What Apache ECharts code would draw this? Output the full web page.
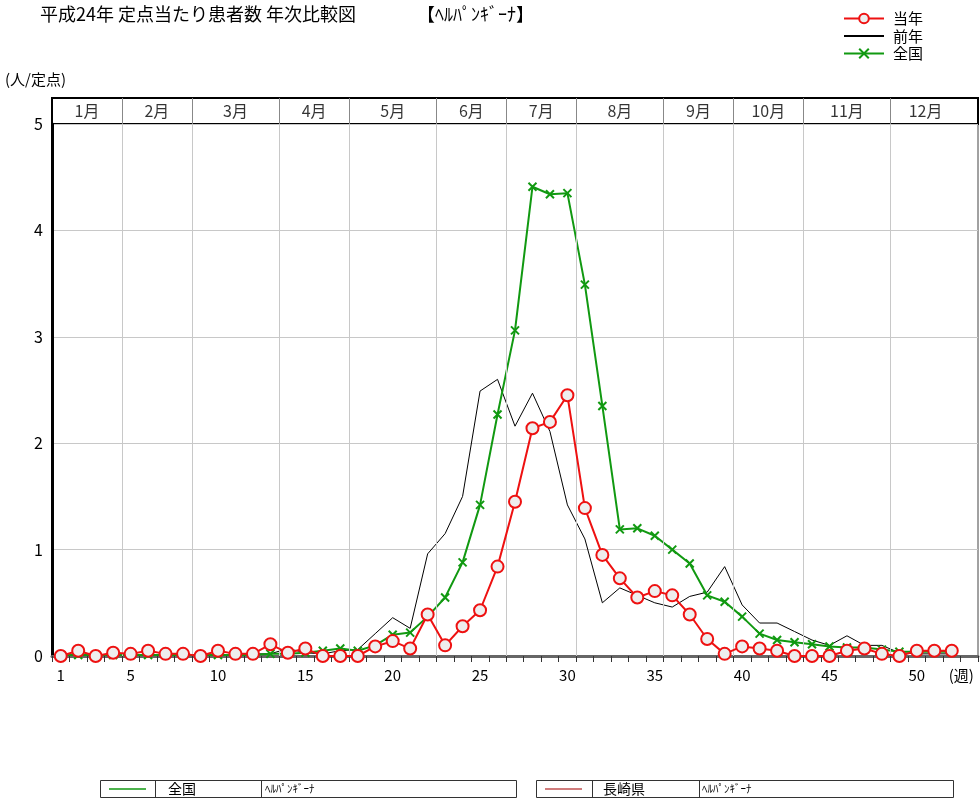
<!DOCTYPE html>
<html><head><meta charset="utf-8">
<script src="https://cdn.jsdelivr.net/npm/echarts@6/dist/echarts.min.js"></script>
<style>html,body{margin:0;padding:0;background:#fff}#c{width:980px;height:800px}</style>
</head><body><div id="c"></div>
<script>
// ---- data ----
const weeks = ['1','2','3','4','5','6','7','8','9','10','11','12','13','14','15','16','17','18','19','20','21','22','23','24','25','26','27','28','29','30','31','32','33','34','35','36','37','38','39','40','41','42','43','44','45','46','47','48','49','50','51','52'];
const weekUnit = '(週)';
const weekTickLabels = ['1','5','10','15','20','25','30','35','40','45','50'];
const months = ['1月','2月','3月','4月','5月','6月','7月','8月','9月','10月','11月','12月'];
const monthWeekCounts = [4,4,5,4,5,4,4,5,4,4,5,4];
const yTicks = [0,1,2,3,4,5];
// 当年 (長崎県 平成24年)
const thisYear = [0.00,0.05,0.00,0.03,0.02,0.05,0.02,0.02,0.00,0.05,0.02,0.02,0.11,0.03,0.07,0.00,0.00,0.00,0.09,0.14,0.07,0.39,0.10,0.28,0.43,0.84,1.45,2.14,2.20,2.45,1.39,0.95,0.73,0.55,0.61,0.57,0.39,0.16,0.02,0.09,0.07,0.05,0.00,0.00,0.00,0.05,0.07,0.02,0.00,0.05,0.05,0.05];
// 前年
const lastYear = [0.01,0.01,0.01,0.01,0.01,0.01,0.01,0.01,0.01,0.01,0.01,0.02,0.02,0.07,0.03,0.02,0.05,0.06,0.21,0.36,0.26,0.96,1.15,1.50,2.49,2.60,2.16,2.47,2.11,1.42,1.10,0.50,0.64,0.57,0.50,0.46,0.56,0.60,0.84,0.48,0.31,0.31,0.23,0.15,0.10,0.19,0.10,0.10,0.03,0.02,0.02,0.02];
// 全国
const national = [0.01,0.01,0.01,0.01,0.01,0.01,0.01,0.01,0.01,0.01,0.01,0.01,0.02,0.02,0.03,0.05,0.07,0.05,0.10,0.20,0.22,0.37,0.55,0.88,1.42,2.27,3.06,4.41,4.34,4.35,3.49,2.35,1.19,1.20,1.13,1.00,0.87,0.57,0.51,0.37,0.21,0.15,0.13,0.11,0.09,0.08,0.08,0.06,0.04,0.04,0.04,0.04];
const seriesNames = ['当年','前年','全国'];
const subject = 'ﾍﾙﾊﾟﾝｷﾞｰﾅ';
const prefecture = '長崎県';
const nationName = '全国';

// ---- derived ----
const FONT = "'Noto Sans CJK JP', sans-serif";
const xCats = weeks.concat([weekUnit]);
const bounds = [];
const centers = [];
let start = 0.5;
monthWeekCounts.forEach((n, i) => {
  centers.push([start + n / 2, 0.5, months[i]]);
  start += n;
  if (i < monthWeekCounts.length - 1) bounds.push(start);
});
const xMin = 0.5, xMax = xCats.length + 0.5;

const RED = '#ee1111', GREEN = '#119911';

const chart = echarts.init(document.getElementById('c'), null, {renderer: 'canvas'});
chart.setOption({
  animation: false,
  textStyle: {fontFamily: FONT},
  title: [
    {text: '平成24年 定点当たり患者数 年次比較図', left: 35, top: 0, textStyle: {fontSize: 18, fontWeight: 'normal', color: '#000', fontFamily: FONT}},
    {text: '【' + subject + '】', left: 412, top: 0, textStyle: {fontSize: 18, fontWeight: 'normal', color: '#000', fontFamily: FONT}},
    {text: '(人/定点)', left: 0, top: 67, textStyle: {fontSize: 15, fontWeight: 'normal', color: '#000', fontFamily: FONT}}
  ],
  legend: {
    data: [{name: seriesNames[0]}, {name: seriesNames[1], itemStyle: {opacity: 0}}, {name: seriesNames[2]}],
    orient: 'vertical', left: 838, top: 6,
    itemWidth: 40, itemHeight: 12, itemGap: 2.5,
    textStyle: {fontSize: 15, color: '#000', fontFamily: FONT, padding: [0, 0, 0, 4]}
  },
  grid: [
    {left: 52, right: 2, top: 124, height: 532, show: true, borderColor: '#444', borderWidth: 1, backgroundColor: 'transparent'},
    {left: 52, right: 2, top: 98, height: 26, show: true, borderColor: '#000', borderWidth: 2, backgroundColor: '#fff'}
  ],
  xAxis: [
    {type: 'category', gridIndex: 0, data: xCats, boundaryGap: true,
     axisLine: {lineStyle: {color: '#666', width: 3}},
     axisTick: {show: true, interval: 0, length: 6, lineStyle: {color: '#333', width: 1}},
     axisLabel: {interval: 0, margin: 12, fontSize: 15, color: '#000', fontFamily: FONT,
       formatter: v => weekTickLabels.includes(v) ? v : (v === weekUnit ? '{w|' + v + '}' : ''),
       rich: {w: {fontSize: 15, color: '#000', fontFamily: FONT, padding: [0, 16, 0, 0]}}},
     splitLine: {show: false}},
    {type: 'value', gridIndex: 0, min: xMin, max: xMax, show: false},
    {type: 'value', gridIndex: 1, min: xMin, max: xMax, show: false}
  ],
  yAxis: [
    {type: 'value', gridIndex: 0, min: yTicks[0], max: yTicks[yTicks.length - 1], interval: 1,
     axisLine: {show: true, lineStyle: {color: '#000', width: 3}},
     axisTick: {show: false},
     axisLabel: {fontSize: 16, color: '#000', margin: 9, fontFamily: FONT},
     splitLine: {lineStyle: {color: '#c8c8c8', width: 1}}},
    {type: 'value', gridIndex: 1, min: 0, max: 1, show: false}
  ],
  graphic: [
    {type: 'rect', shape: {x: 100.5, y: 780.5, width: 416, height: 17}, style: {fill: 'none', stroke: '#333', lineWidth: 1}},
    {type: 'line', shape: {x1: 155.5, y1: 780.5, x2: 155.5, y2: 797.5}, style: {stroke: '#333', lineWidth: 1}},
    {type: 'line', shape: {x1: 261.5, y1: 780.5, x2: 261.5, y2: 797.5}, style: {stroke: '#333', lineWidth: 1}},
    {type: 'line', shape: {x1: 109, y1: 789, x2: 146, y2: 789}, style: {stroke: GREEN, lineWidth: 1.5}},
    {type: 'text', x: 168, y: 789, style: {text: nationName, fill: '#000', font: '14px ' + FONT, textVerticalAlign: 'middle'}},
    {type: 'text', x: 265, y: 789, style: {text: subject, fill: '#000', font: '11px ' + FONT, textVerticalAlign: 'middle'}},
    {type: 'rect', shape: {x: 536.5, y: 780.5, width: 417, height: 17}, style: {fill: 'none', stroke: '#333', lineWidth: 1}},
    {type: 'line', shape: {x1: 592.5, y1: 780.5, x2: 592.5, y2: 797.5}, style: {stroke: '#333', lineWidth: 1}},
    {type: 'line', shape: {x1: 699.5, y1: 780.5, x2: 699.5, y2: 797.5}, style: {stroke: '#333', lineWidth: 1}},
    {type: 'line', shape: {x1: 545, y1: 789, x2: 582, y2: 789}, style: {stroke: '#c05050', lineWidth: 1.5}},
    {type: 'text', x: 603, y: 789, style: {text: prefecture, fill: '#000', font: '14px ' + FONT, textVerticalAlign: 'middle'}},
    {type: 'text', x: 702, y: 789, style: {text: subject, fill: '#000', font: '11px ' + FONT, textVerticalAlign: 'middle'}}
  ],
  series: [
    {name: '_monthgrid', type: 'line', xAxisIndex: 1, yAxisIndex: 0, data: [], silent: true,
     markLine: {silent: true, symbol: 'none', label: {show: false},
       lineStyle: {color: '#c8c8c8', type: 'solid', width: 1},
       data: bounds.map(b => ({xAxis: b}))}},
    {name: '_header', type: 'scatter', xAxisIndex: 2, yAxisIndex: 1, data: centers, silent: true,
     symbol: 'circle', symbolSize: 1, itemStyle: {color: 'rgba(0,0,0,0)'},
     label: {show: true, position: 'inside', formatter: p => p.value[2], fontSize: 16, color: '#000', fontFamily: FONT},
     markLine: {silent: true, symbol: 'none', label: {show: false},
       lineStyle: {color: '#888', type: 'solid', width: 1},
       data: bounds.map(b => ({xAxis: b}))}},
    {name: '前年', type: 'line', xAxisIndex: 0, yAxisIndex: 0, data: lastYear,
     showSymbol: false, symbol: 'none', lineStyle: {color: '#000', width: 1}, itemStyle: {color: '#000'}, z: 3},
    {name: '全国', type: 'line', xAxisIndex: 0, yAxisIndex: 0, data: national,
     symbol: 'path://M0,0L10,10M10,0L0,10', symbolSize: 8,
     itemStyle: {color: GREEN, borderColor: GREEN, borderWidth: 2},
     lineStyle: {color: GREEN, width: 2}, z: 4},
    {name: '当年', type: 'line', xAxisIndex: 0, yAxisIndex: 0, data: thisYear,
     symbol: 'circle', symbolSize: 12,
     itemStyle: {color: '#eeeeee', borderColor: RED, borderWidth: 2},
     lineStyle: {color: RED, width: 2}, z: 5}
  ]
});
</script></body></html>
